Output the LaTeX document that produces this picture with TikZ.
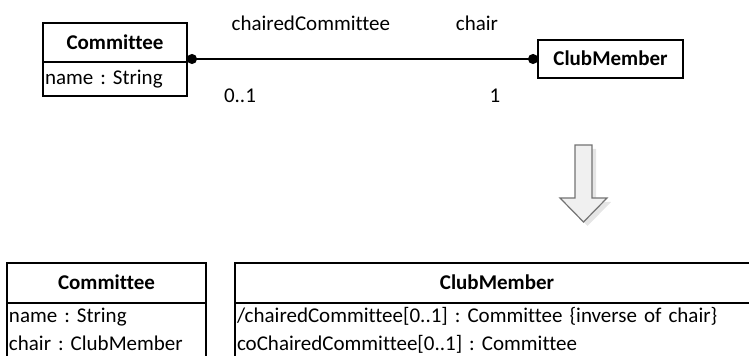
\documentclass[tikz,border=0pt]{standalone}
\usepackage{fontspec}
\setmainfont{Carlito}[Ligatures=CommonOff]
\frenchspacing
\usetikzlibrary{arrows.meta,positioning}

\begin{document}
\begin{tikzpicture}[x=0.5pt,y=-0.5pt,
  font=\fontsize{10.5}{14}\selectfont,
  cls/.style={draw,line width=1pt,outer sep=0pt,inner sep=1pt},
  clsname/.style={cls,font=\fontsize{10.5}{14}\selectfont\bfseries,
    text height=6.7pt,text depth=0pt},
  clsattr/.style={cls,align=left,text height=9pt},
  role/.style={inner sep=0pt,text height=6.7pt,text depth=0pt},
  assoc/.style={line width=0.6pt,{Circle[length=5pt]}-{Circle[length=5pt]}}]

\clip (0,0) rectangle (749,356);

% source model
\node[clsname,minimum width=72pt,minimum height=19.5pt] (comm) at (115,42.5) {Committee};
\node[clsattr,minimum width=72pt,minimum height=17pt,text width=70pt,
  text depth=3pt,below=0pt of comm] (comm_attr) {name : String};
\node[clsname,minimum width=72.5pt,minimum height=19pt] (member) at (610.5,59) {ClubMember};

\draw[assoc] (member.west) -- (member.west -| comm.east)
  node[role,pos=0.174,above=14pt] {chair}
  node[role,pos=0.123,below=14.75pt] {1}
  node[role,pos=0.647,above=14pt] {chairedCommittee}
  node[role,pos=0.849,below=14.75pt] {0..1};

% transformation arrow
\fill[black!10,shift={(4,4)}] (575,145) -- (592,145) -- (592,198) -- (607,198)
  -- (583.5,222) -- (560,198) -- (575,198) -- cycle;
\draw[black!55,fill=black!6,line width=0.6pt] (575,145) -- (592,145) -- (592,198)
  -- (607,198) -- (583.5,222) -- (560,198) -- (575,198) -- cycle;

% target model
\node[clsname,minimum width=99.5pt,minimum height=20pt] (comm2) at (106.5,283) {Committee};
\node[clsattr,minimum width=99.5pt,text width=97.5pt,text depth=30pt,
  below=0pt of comm2] (comm2_attr) {name : String\\chair : ClubMember};
\node[clsname,minimum width=262pt,minimum height=20pt,right=14.5pt of comm2] (member2) {ClubMember};
\node[clsattr,minimum width=262pt,text width=260pt,text depth=30pt,
  below=0pt of member2] (member2_attr)
  {/chairedCommittee[0..1] : Committee \{inverse of chair\}\\coChairedCommittee[0..1] : Committee};

\end{tikzpicture}
\end{document}
